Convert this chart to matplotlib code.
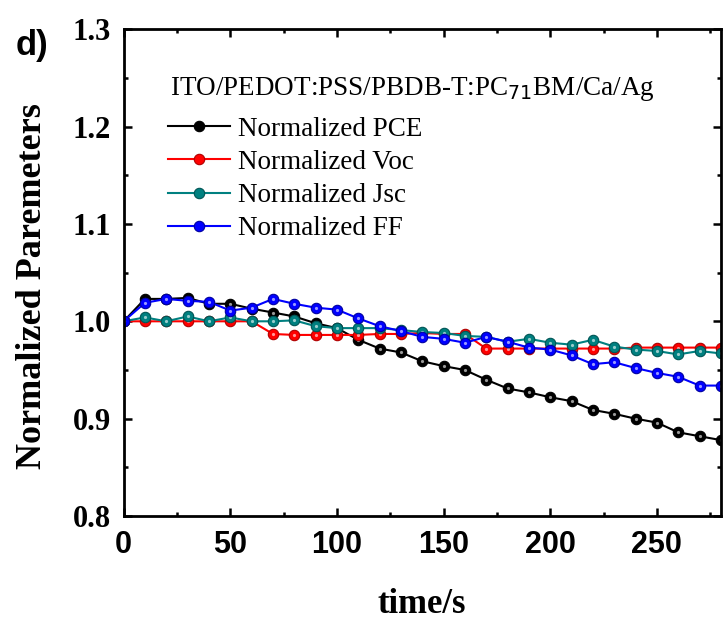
import numpy as np
import matplotlib
matplotlib.use("Agg")
import matplotlib.pyplot as plt
from matplotlib.ticker import MultipleLocator

# time axis (s)
t = np.arange(0, 290, 10)

pce = [1.0, 1.023, 1.023, 1.024, 1.018, 1.018, 1.013, 1.009, 1.005, 0.998,
       0.993, 0.981, 0.972, 0.968, 0.959, 0.954, 0.950, 0.940, 0.931, 0.927,
       0.922, 0.918, 0.909, 0.905, 0.900, 0.896, 0.886, 0.882, 0.878]
voc = [1.0, 1.0, 1.0, 1.0, 1.0, 1.0, 1.0, 0.987, 0.986, 0.986,
       0.986, 0.986, 0.987, 0.987, 0.988, 0.987, 0.987, 0.972, 0.972, 0.972,
       0.972, 0.972, 0.972, 0.972, 0.973, 0.973, 0.973, 0.973, 0.973]
jsc = [1.0, 1.004, 1.0, 1.005, 1.0, 1.004, 1.0, 1.0, 1.001, 0.995,
       0.993, 0.993, 0.993, 0.991, 0.989, 0.988, 0.985, 0.984, 0.979, 0.982,
       0.978, 0.976, 0.981, 0.974, 0.971, 0.9695, 0.966, 0.9695, 0.967]
ff = [1.0, 1.019, 1.023, 1.021, 1.020, 1.011, 1.014, 1.023, 1.018, 1.014,
      1.012, 1.003, 0.995, 0.990, 0.984, 0.982, 0.978, 0.984, 0.979, 0.973,
      0.971, 0.965, 0.956, 0.958, 0.952, 0.947, 0.943, 0.934, 0.934]

series = [
    ("Normalized PCE", pce, "black", "#000000"),
    ("Normalized Voc", voc, "red", "#b00000"),
    ("Normalized Jsc", jsc, "#008080", "#005555"),
    ("Normalized FF", ff, "blue", "#0000a0"),
]

serif = "Liberation Serif"
sans = "Liberation Sans"

fig = plt.figure(figsize=(7.23, 6.21), dpi=100)
ax = fig.add_axes([0.171, 0.169, 0.826, 0.784])

for label, y, c, ec in series:
    ax.plot(t, y, "-o", color=c, lw=1.5, ms=7.5, mfc=c, mec=ec, mew=0.8,
            label=label)
    # small highlight on the markers
    ax.plot(t, y, "o", color="white", ms=2.3, alpha=0.6, mew=0)

ax.set_xlim(0, 280)
ax.set_ylim(0.8, 1.3)
ax.xaxis.set_major_locator(MultipleLocator(50))
ax.xaxis.set_minor_locator(MultipleLocator(25))
ax.yaxis.set_major_locator(MultipleLocator(0.1))
ax.yaxis.set_minor_locator(MultipleLocator(0.05))
ax.tick_params(which="both", direction="in", top=True, right=True, width=1.8)
ax.tick_params(which="major", length=6)
ax.tick_params(which="minor", length=3)
ax.tick_params(axis="x", pad=10)
ax.tick_params(axis="y", pad=9)
for s in ax.spines.values():
    s.set_linewidth(2.0)

for lab in ax.get_xticklabels():
    lab.set_fontfamily(sans)
    lab.set_fontweight("bold")
    lab.set_fontsize(22)
ax.set_yticks([0.8, 0.9, 1.0, 1.1, 1.2, 1.3])
ax.set_yticklabels(["0.8", "0.9", "1.0", "1.1", "1.2", "1.3"],
                   fontfamily=serif, fontweight="bold", fontsize=22)

ax.set_xlabel("time/s", fontfamily=serif, fontweight="bold", fontsize=25)
ax.xaxis.set_label_coords(0.5, -0.147)
ax.set_ylabel("Normalized Paremeters", fontfamily=serif, fontweight="bold",
              fontsize=26)
ax.yaxis.set_label_coords(-0.125, 0.473)

# header line of the legend
ax.text(0.078, 0.877, "ITO/PEDOT:PSS/PBDB-T:PC$_{71}$BM/Ca/Ag",
        transform=ax.transAxes, family=serif, fontsize=19.5, va="center")

leg = ax.legend(loc="upper left", bbox_to_anchor=(0.074, 0.82),
                frameon=False, prop={"family": serif, "size": 19.5},
                handlelength=2.3, handletextpad=0.3,
                labelspacing=0.3, borderaxespad=0.0, borderpad=0.0)

fig.text(0.021, 0.911, "d)", fontfamily=sans, fontweight="bold", fontsize=25,
         va="baseline")

fig.savefig("out.png", dpi=100)
